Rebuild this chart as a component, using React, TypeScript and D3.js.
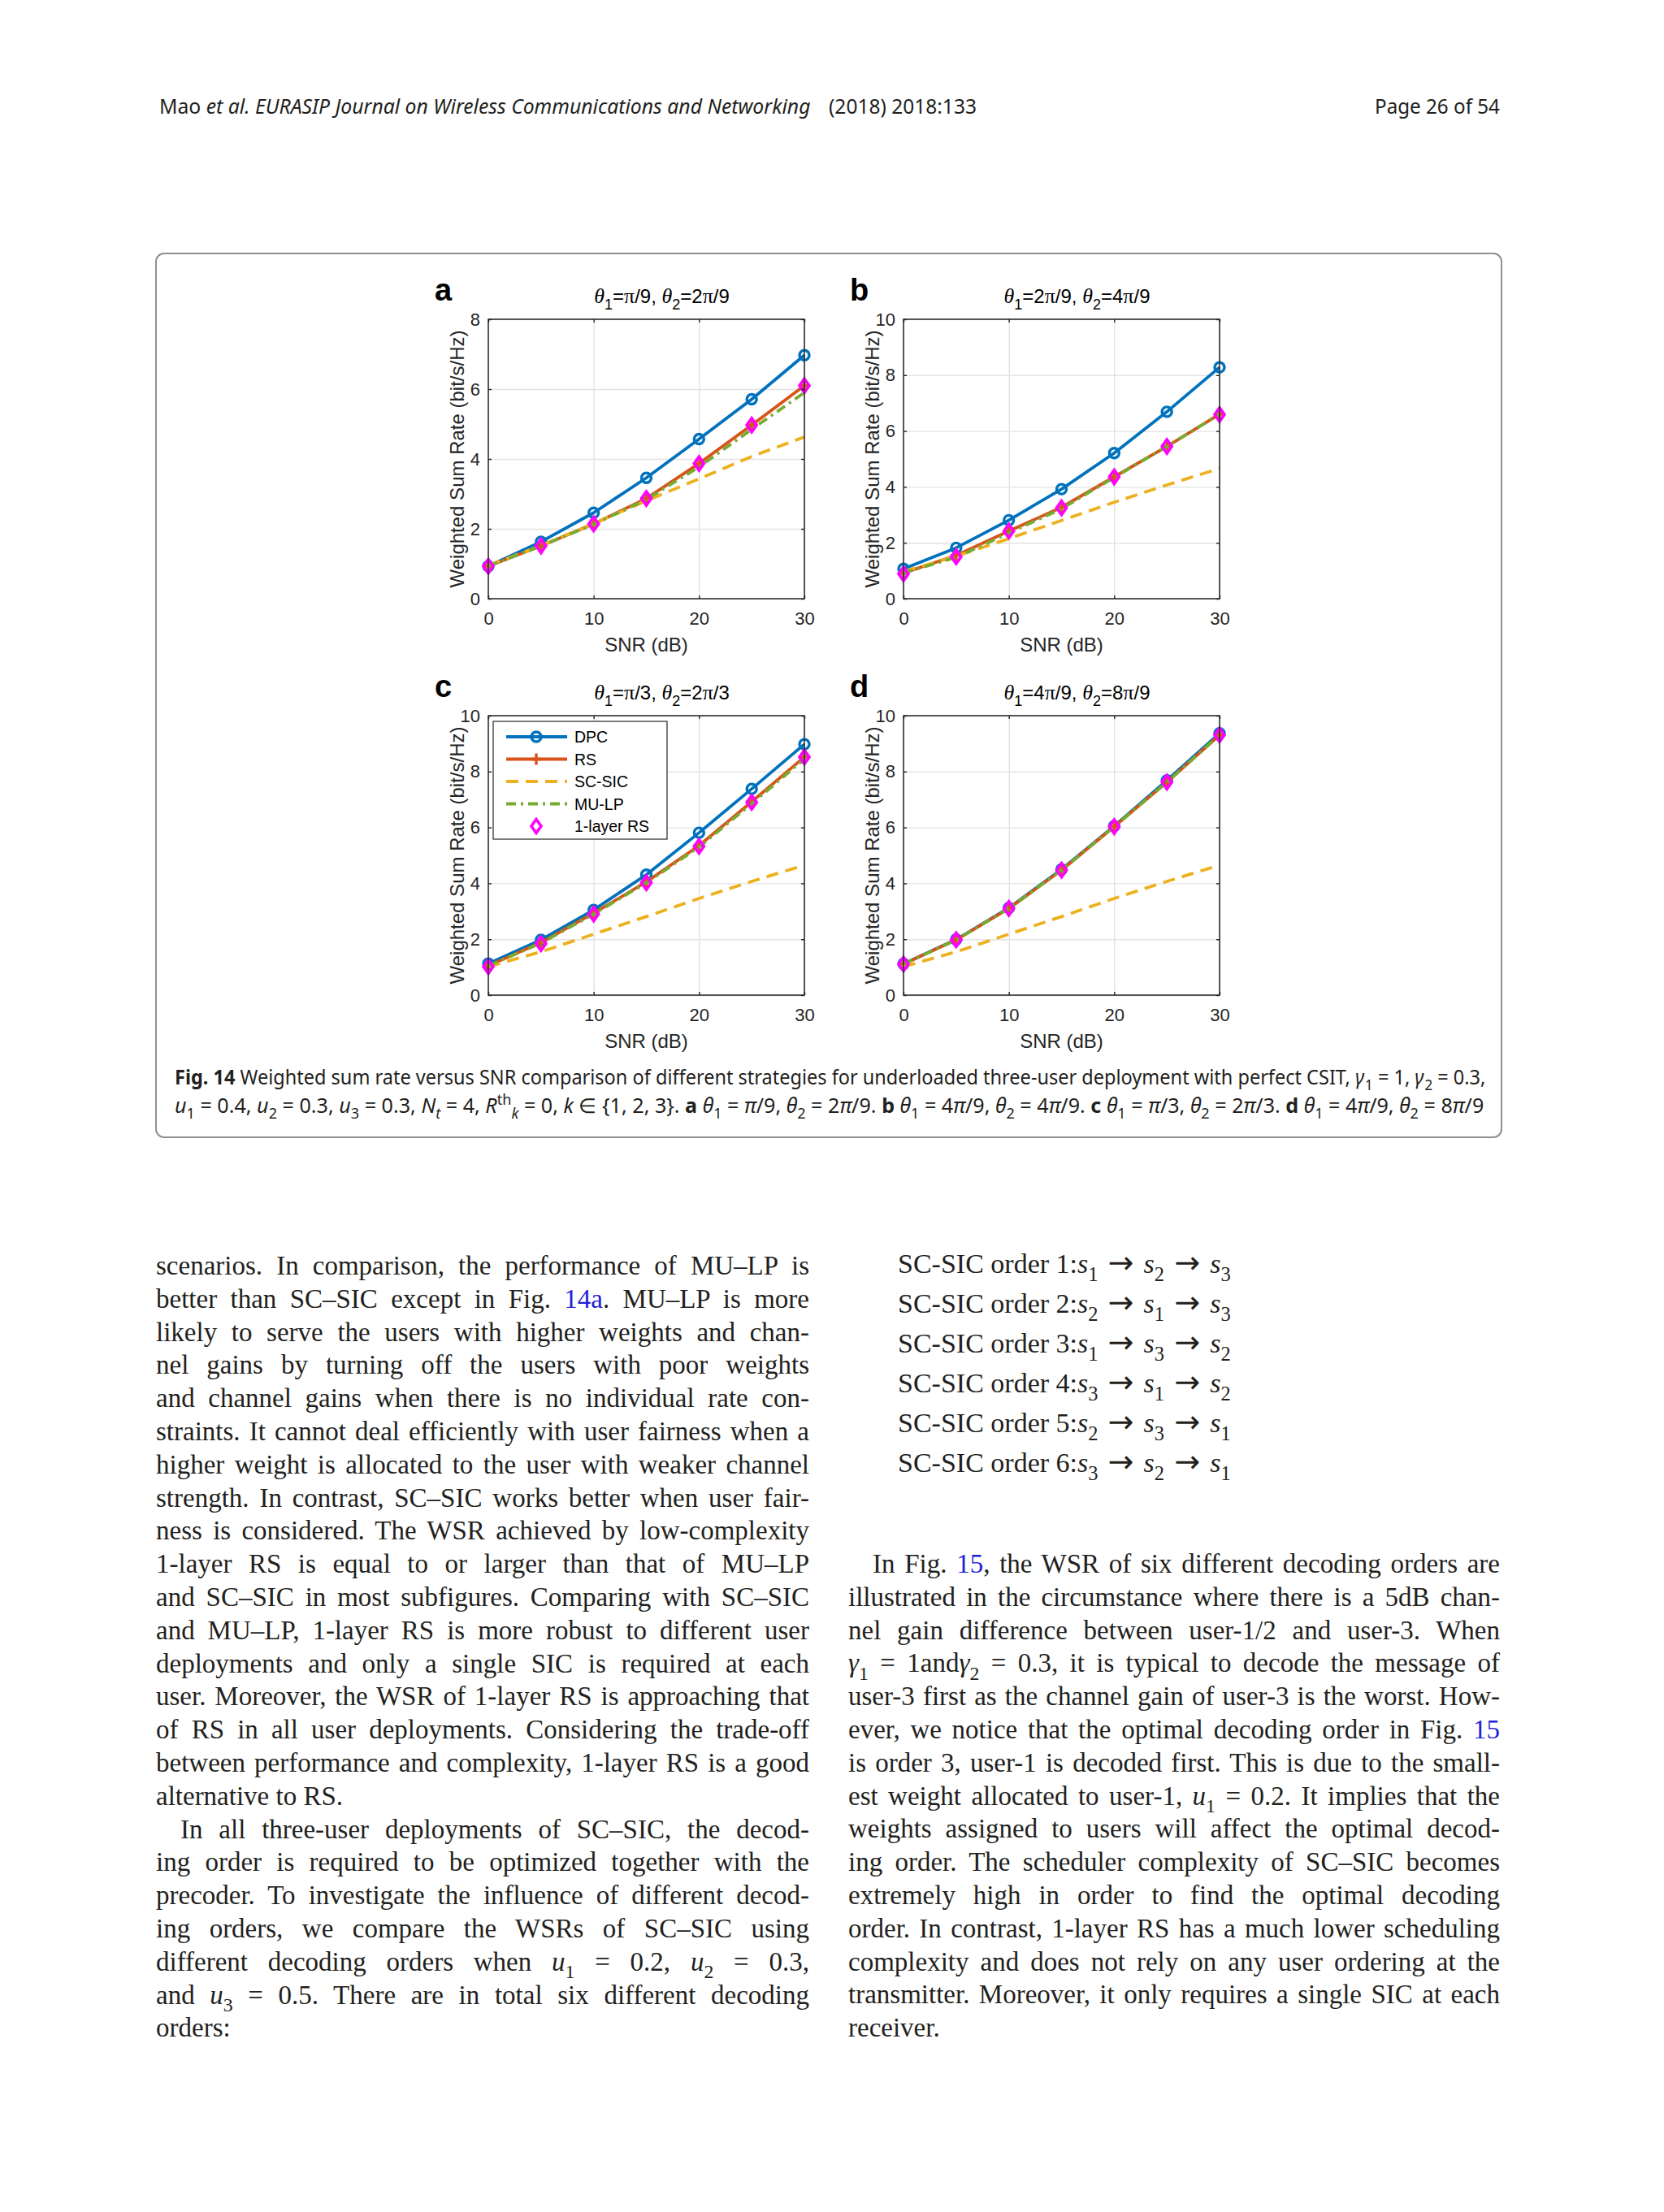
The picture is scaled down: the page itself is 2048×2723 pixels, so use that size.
import { useEffect, useRef } from 'react'
import * as d3 from 'd3'

// x values shared by every panel
const snr = [0, 5, 10, 15, 20, 25, 30]
const xTicks = [0, 10, 20, 30]
const yTicks8 = [0, 2, 4, 6, 8]
const yTicks10 = [0, 2, 4, 6, 8, 10]

const seriesNames = ['DPC', 'RS', 'SC-SIC', 'MU-LP', '1-layer RS']
const seriesColors = ['#0072BD', '#D95319', '#EDB120', '#77AC30', '#FF00FF']

// panel a: theta1 = pi/9, theta2 = 2pi/9
const dpcA = [0.93, 1.63, 2.46, 3.46, 4.57, 5.71, 6.97]
const rsA = [0.93, 1.51, 2.14, 2.87, 3.87, 4.97, 6.1]
const scsicA = [0.95, 1.52, 2.15, 2.8, 3.43, 4.07, 4.63]
const mulpA = [0.93, 1.51, 2.13, 2.84, 3.77, 4.85, 5.9]
const oneLayerA = [0.93, 1.51, 2.14, 2.87, 3.87, 4.97, 6.1]

// panel b: theta1 = 2pi/9, theta2 = 4pi/9
const dpcB = [1.07, 1.82, 2.81, 3.92, 5.21, 6.69, 8.28]
const rsB = [0.92, 1.55, 2.42, 3.27, 4.36, 5.45, 6.6]
const scsicB = [0.97, 1.52, 2.15, 2.8, 3.45, 4.07, 4.66]
const mulpB = [0.92, 1.48, 2.35, 3.22, 4.34, 5.45, 6.6]
const oneLayerB = [0.89, 1.5, 2.42, 3.25, 4.36, 5.45, 6.59]

// panel c: theta1 = pi/3, theta2 = 2pi/3
const dpcC = [1.13, 1.98, 3.05, 4.31, 5.81, 7.38, 8.98]
const rsC = [1.05, 1.88, 2.93, 4.05, 5.35, 6.92, 8.52]
const scsicC = [1.02, 1.55, 2.18, 2.81, 3.46, 4.07, 4.65]
const mulpC = [1.05, 1.86, 2.9, 4.02, 5.3, 6.85, 8.45]
const oneLayerC = [1.02, 1.84, 2.9, 4.02, 5.32, 6.9, 8.52]

// panel d: theta1 = 4pi/9, theta2 = 8pi/9
const dpcD = [1.12, 1.99, 3.12, 4.5, 6.05, 7.68, 9.37]
const rsD = [1.11, 1.98, 3.1, 4.47, 6.03, 7.62, 9.31]
const scsicD = [1.02, 1.55, 2.18, 2.81, 3.46, 4.07, 4.65]
const mulpD = [1.11, 1.98, 3.1, 4.47, 6.03, 7.62, 9.31]
const oneLayerD = [1.11, 1.98, 3.1, 4.47, 6.03, 7.62, 9.31]

type Seg = [string, string?, number?]

const headerLeft: Seg[] = [['Mao '], ['et al.', 'i'], [' EURASIP Journal on Wireless Communications and Networking', 'i']]
const headerMid: Seg[] = [['(2018) 2018:133']]
const headerRight: Seg[] = [['Page 26 of 54']]

const captionLine1: Seg[] = [
  ['Fig. 14', 'b'],
  [' Weighted sum rate versus SNR comparison of different strategies for underloaded three-user deployment with perfect CSIT, '],
  ['γ', 'i'], ['1', '_', 1], [' = 1, '], ['γ', 'i'], ['2', '_', 1], [' = 0.3,'],
]
const captionLine2: Seg[] = [
  ['u', 'i'], ['1', '_'], [' = 0.4, '], ['u', 'i'], ['2', '_'], [' = 0.3, '], ['u', 'i'], ['3', '_'], [' = 0.3, '],
  ['N', 'i'], ['t', 'i_'], [' = 4, '], ['R', 'i'], ['th', '^'], ['k', 'i_'], [' = 0, '], ['k', 'i'], [' ∈ {1, 2, 3}. '],
  ['a', 'b'], [' '], ['θ', 'i'], ['1', '_'], [' = '], ['π', 'i'], ['/9, '], ['θ', 'i'], ['2', '_'], [' = 2'], ['π', 'i'], ['/9. '],
  ['b', 'b'], [' '], ['θ', 'i'], ['1', '_'], [' = 4'], ['π', 'i'], ['/9, '], ['θ', 'i'], ['2', '_'], [' = 4'], ['π', 'i'], ['/9. '],
  ['c', 'b'], [' '], ['θ', 'i'], ['1', '_'], [' = '], ['π', 'i'], ['/3, '], ['θ', 'i'], ['2', '_'], [' = 2'], ['π', 'i'], ['/3. '],
  ['d', 'b'], [' '], ['θ', 'i'], ['1', '_'], [' = 4'], ['π', 'i'], ['/9, '], ['θ', 'i'], ['2', '_'], [' = 8'], ['π', 'i'], ['/9'],
]

const leftLines: Seg[][] = [
  [['scenarios. In comparison, the performance of MU–LP is']],
  [['better than SC–SIC except in Fig. '], ['14a', 'l'], ['. MU–LP is more']],
  [['likely to serve the users with higher weights and chan-']],
  [['nel gains by turning off the users with poor weights']],
  [['and channel gains when there is no individual rate con-']],
  [['straints. It cannot deal efficiently with user fairness when a']],
  [['higher weight is allocated to the user with weaker channel']],
  [['strength. In contrast, SC–SIC works better when user fair-']],
  [['ness is considered. The WSR achieved by low-complexity']],
  [['1-layer RS is equal to or larger than that of MU–LP']],
  [['and SC–SIC in most subfigures. Comparing with SC–SIC']],
  [['and MU–LP, 1-layer RS is more robust to different user']],
  [['deployments and only a single SIC is required at each']],
  [['user. Moreover, the WSR of 1-layer RS is approaching that']],
  [['of RS in all user deployments. Considering the trade-off']],
  [['between performance and complexity, 1-layer RS is a good']],
  [['alternative to RS.']],
  [['In all three-user deployments of SC–SIC, the decod-']],
  [['ing order is required to be optimized together with the']],
  [['precoder. To investigate the influence of different decod-']],
  [['ing orders, we compare the WSRs of SC–SIC using']],
  [['different decoding orders when '], ['u', 'i'], ['1', '_'], [' = 0.2, '], ['u', 'i'], ['2', '_'], [' = 0.3,']],
  [['and '], ['u', 'i'], ['3', '_'], [' = 0.5. There are in total six different decoding']],
  [['orders:']],
]
const leftRagged = [16, 23]
const leftIndent = [17]

// the six SC-SIC decoding orders
const decodingOrders = [[1, 2, 3], [2, 1, 3], [1, 3, 2], [3, 1, 2], [2, 3, 1], [3, 2, 1]]

const rightLines: Seg[][] = [
  [['In Fig. '], ['15', 'l'], [', the WSR of six different decoding orders are']],
  [['illustrated in the circumstance where there is a 5dB chan-']],
  [['nel gain difference between user-1/2 and user-3. When']],
  [['γ', 'i'], ['1', '_'], [' = 1and'], ['γ', 'i'], ['2', '_'], [' = 0.3, it is typical to decode the message of']],
  [['user-3 first as the channel gain of user-3 is the worst. How-']],
  [['ever, we notice that the optimal decoding order in Fig. '], ['15', 'l']],
  [['is order 3, user-1 is decoded first. This is due to the small-']],
  [['est weight allocated to user-1, '], ['u', 'i'], ['1', '_'], [' = 0.2. It implies that the']],
  [['weights assigned to users will affect the optimal decod-']],
  [['ing order. The scheduler complexity of SC–SIC becomes']],
  [['extremely high in order to find the optimal decoding']],
  [['order. In contrast, 1-layer RS has a much lower scheduling']],
  [['complexity and does not rely on any user ordering at the']],
  [['transmitter. Moreover, it only requires a single SIC at each']],
  [['receiver.']],
]
const rightRagged = [14]
const rightIndent = [0]

const SANS = '"Liberation Sans", Arial, sans-serif'
const SERIF = '"Liberation Serif", "Times New Roman", serif'
const CAPTION_FONT = '"Noto Sans", "Open Sans", sans-serif'
const ARROW_FONT = '"DejaVu Sans", sans-serif'
const AXIS = '#262626'
const GRID = '#e3e3e3'
const LINK = '#1f1fd8'
const INK = '#231f20'
const BODY_SIZE = 33
const LEAD = 40.8

const PW = 389
const PH = 344

interface PanelSpec {
  label: string
  th1: string
  th2: string
  yMax: number
  yTicks: number[]
  left: number
  top: number
  values: number[][]
  legend: boolean
}

const panels: PanelSpec[] = [
  { label: 'a', th1: 'π/9', th2: '2π/9', yMax: 8, yTicks: yTicks8, left: 601, top: 393, values: [dpcA, rsA, scsicA, mulpA, oneLayerA], legend: false },
  { label: 'b', th1: '2π/9', th2: '4π/9', yMax: 10, yTicks: yTicks10, left: 1112, top: 393, values: [dpcB, rsB, scsicB, mulpB, oneLayerB], legend: false },
  { label: 'c', th1: 'π/3', th2: '2π/3', yMax: 10, yTicks: yTicks10, left: 601, top: 881, values: [dpcC, rsC, scsicC, mulpC, oneLayerC], legend: true },
  { label: 'd', th1: '4π/9', th2: '8π/9', yMax: 10, yTicks: yTicks10, left: 1112, top: 881, values: [dpcD, rsD, scsicD, mulpD, oneLayerD], legend: false },
]

const DIAMOND = 'M0,-8.5L6,0L0,8.5L-6,0Z'
const PLUS = 'M-7,0H7M0,-7V7'
const DASHES = ['', '', '15,9', '12,6,3,6', '']

function orderSegs(n: number, order: number[]): Seg[] {
  const segs: Seg[] = [[`SC-SIC order ${n}:`]]
  order.forEach((u, k) => {
    if (k > 0) segs.push([' → ', 'a'])
    segs.push(['s', 'i'], [String(u), '_'])
  })
  return segs
}

function piParts(s: string): [string, string][] {
  const [a, b] = s.split('π')
  const out: [string, string][] = []
  if (a) out.push([a, ''])
  out.push(['π', 'p'])
  out.push([b, ''])
  return out
}

function drawMarkers(g: d3.Selection<SVGGElement, unknown, null, undefined>, i: number, xs: number[], ys: number[], color: string) {
  if (i === 0) {
    g.selectAll(null).data(ys).enter().append('circle')
      .attr('cx', (_, k) => xs[k]).attr('cy', d => d).attr('r', 6)
      .attr('fill', 'none').attr('stroke', color).attr('stroke-width', 3.4)
  } else if (i === 1) {
    g.selectAll(null).data(ys).enter().append('path')
      .attr('d', PLUS).attr('transform', (d, k) => `translate(${xs[k]},${d})`)
      .attr('fill', 'none').attr('stroke', color).attr('stroke-width', 3.4)
  } else if (i === 4) {
    g.selectAll(null).data(ys).enter().append('path')
      .attr('d', DIAMOND).attr('transform', (d, k) => `translate(${xs[k]},${d})`)
      .attr('fill', 'none').attr('stroke', color).attr('stroke-width', 3.6)
  }
}

function drawPanel(g: d3.Selection<SVGGElement, unknown, null, undefined>, p: PanelSpec) {
  const x = d3.scaleLinear().domain([0, 30]).range([0, PW])
  const y = d3.scaleLinear().domain([0, p.yMax]).range([PH, 0])
  g.attr('transform', `translate(${p.left},${p.top})`)

  // grid
  const gx = g.append('g').attr('transform', `translate(0,${PH})`)
    .call(d3.axisBottom(x).tickValues(xTicks).tickSize(-PH).tickFormat(() => ''))
  const gy = g.append('g')
    .call(d3.axisLeft(y).tickValues(p.yTicks).tickSize(-PW).tickFormat(() => ''))
  ;[gx, gy].forEach(a => {
    a.select('.domain').remove()
    a.selectAll('line').attr('stroke', GRID).attr('stroke-width', 1.4)
  })

  // series
  const line = d3.line<number>().x((_, k) => x(snr[k])).y(d => y(d))
  p.values.forEach((vals, i) => {
    const sg = g.append('g')
    if (i !== 4) {
      sg.append('path').datum(vals).attr('d', line)
        .attr('fill', 'none').attr('stroke', seriesColors[i]).attr('stroke-width', 3.8)
        .attr('stroke-dasharray', DASHES[i] || null).attr('stroke-linejoin', 'round')
    }
    drawMarkers(sg, i, snr.map(s => x(s)), vals.map(v => y(v)), seriesColors[i])
  })

  // box and inward ticks
  g.append('rect').attr('width', PW).attr('height', PH)
    .attr('fill', 'none').attr('stroke', AXIS).attr('stroke-width', 1.5)
  const axes = [
    g.append('g').attr('transform', `translate(0,${PH})`)
      .call(d3.axisBottom(x).tickValues(xTicks).tickSize(-4).tickPadding(16)),
    g.append('g').call(d3.axisTop(x).tickValues(xTicks).tickSize(-4).tickFormat(() => '')),
    g.append('g').call(d3.axisLeft(y).tickValues(p.yTicks).tickSize(-4).tickPadding(10)),
    g.append('g').attr('transform', `translate(${PW},0)`)
      .call(d3.axisRight(y).tickValues(p.yTicks).tickSize(-4).tickFormat(() => '')),
  ]
  axes.forEach(a => {
    a.select('.domain').remove()
    a.selectAll('line').attr('stroke', AXIS).attr('stroke-width', 1.4)
    a.selectAll('text').attr('fill', AXIS).attr('font-size', 22).attr('font-family', SANS)
  })

  // title
  const title = g.append('text').attr('x', PW / 2 + 19).attr('y', -20)
    .attr('text-anchor', 'middle').attr('font-family', SANS).attr('font-size', 24).attr('fill', '#000')
  const parts: [string, string][] = [
    ['θ', 'm'], ['1', '_'], ['=', ''], ...piParts(p.th1), [', ', ''],
    ['θ', 'm'], ['2', '_'], ['=', ''], ...piParts(p.th2),
  ]
  let shift = 0
  parts.forEach(([t, c]) => {
    const target = c === '_' ? 8 : 0
    const ts = title.append('tspan').text(t)
    if (target !== shift) ts.attr('dy', target - shift)
    shift = target
    if (c === '_') ts.attr('font-size', 18)
    if (c === 'm') ts.attr('font-family', SERIF).attr('font-style', 'italic').attr('font-size', 26)
    if (c === 'p') ts.attr('font-family', SERIF).attr('font-size', 26)
  })

  g.append('text').attr('x', -66).attr('y', -23)
    .attr('font-family', SANS).attr('font-weight', 'bold').attr('font-size', 38).text(p.label)

  g.append('text').attr('x', PW / 2).attr('y', PH + 65).attr('text-anchor', 'middle')
    .attr('font-family', SANS).attr('font-size', 24).attr('fill', AXIS).text('SNR (dB)')

  g.append('text').attr('transform', 'rotate(-90)').attr('x', -PH / 2).attr('y', -30)
    .attr('text-anchor', 'middle').attr('font-family', SANS).attr('font-size', 24).attr('fill', AXIS)
    .text('Weighted Sum Rate (bit/s/Hz)')

  if (p.legend) {
    const lg = g.append('g').attr('transform', 'translate(6,7)')
    lg.append('rect').attr('width', 214).attr('height', 145)
      .attr('fill', '#fff').attr('stroke', AXIS).attr('stroke-width', 1.2)
    seriesNames.forEach((name, i) => {
      const yy = 19 + i * 27.5
      const row = lg.append('g')
      if (i !== 4) {
        row.append('line').attr('x1', 16).attr('x2', 91).attr('y1', yy).attr('y2', yy)
          .attr('stroke', seriesColors[i]).attr('stroke-width', 3.8)
          .attr('stroke-dasharray', DASHES[i] || null)
      }
      drawMarkers(row, i, [53], [yy], seriesColors[i])
      row.append('text').attr('x', 100).attr('y', yy).attr('dy', '0.36em')
        .attr('font-family', SANS).attr('font-size', 19.5).attr('fill', '#000').text(name)
    })
  }
}

function RichText({ x, y, segs, size, family, fill = INK, justify, fit }: {
  x: number, y: number, segs: Seg[], size: number, family: string, fill?: string,
  justify?: number, fit?: number
}) {
  let shift = 0
  return (
    <text x={x} y={y} fontSize={size} fontFamily={family} fill={fill} data-w={justify} data-fit={fit}
      style={{ whiteSpace: 'pre' }}>
      {segs.map(([t, c = '', dx], k) => {
        const target = c.includes('_') ? size * 0.28 : c.includes('^') ? -size * 0.4 : 0
        const dy = target - shift
        shift = target
        const arrow = c.includes('a')
        return (
          <tspan key={k} dy={dy !== 0 ? dy : undefined} dx={dx || undefined}
            fontSize={target !== 0 ? size * 0.72 : arrow ? size * 1.12 : undefined}
            fontFamily={arrow ? ARROW_FONT : undefined}
            fontStyle={c.includes('i') ? 'italic' : undefined}
            fontWeight={c.includes('b') ? 'bold' : undefined}
            fill={c.includes('l') ? LINK : undefined}>{t}</tspan>
        )
      })}
    </text>
  )
}

export default function App() {
  const svgRef = useRef<SVGSVGElement>(null)
  const chartRef = useRef<SVGGElement>(null)

  useEffect(() => {
    if (!chartRef.current || !svgRef.current) return
    const root = d3.select(chartRef.current)
    root.selectAll('*').remove()
    panels.forEach(p => drawPanel(root.append('g'), p))

    const svg = d3.select(svgRef.current)
    // justify body lines by widening (or slightly tightening) the word spaces
    svg.selectAll<SVGTextElement, unknown>('text[data-w]').each(function () {
      const w = +(this.getAttribute('data-w') || 0)
      const len = this.getComputedTextLength()
      const spaces = (this.textContent || '').split(' ').length - 1
      const ws = spaces > 0 ? (w - len) / spaces : 0
      if (ws >= -BODY_SIZE * 0.1) {
        this.setAttribute('word-spacing', String(ws))
      } else {
        this.setAttribute('word-spacing', String(-BODY_SIZE * 0.1))
        this.setAttribute('textLength', String(w))
        this.setAttribute('lengthAdjust', 'spacingAndGlyphs')
      }
    })
    // squeeze the condensed sans lines (header, caption) to their width
    svg.selectAll<SVGTextElement, unknown>('text[data-fit]').each(function () {
      const w = +(this.getAttribute('data-fit') || 0)
      const x0 = +(this.getAttribute('x') || 0)
      const s = w / this.getComputedTextLength()
      this.setAttribute('transform', `translate(${x0 * (1 - s)},0) scale(${s},1)`)
    })
  }, [])

  return (
    <svg ref={svgRef} width={2048} height={2723} viewBox="0 0 2048 2723"
      style={{ position: 'absolute', left: 0, top: 0, background: '#fff' }}>
      <rect width={2048} height={2723} fill="#fff" />

      {/* running header */}
      <RichText x={196} y={140} segs={headerLeft} size={26} family={CAPTION_FONT} fit={802} />
      <RichText x={1020} y={140} segs={headerMid} size={26} family={CAPTION_FONT} fit={182} />
      <RichText x={1692} y={140} segs={headerRight} size={26} family={CAPTION_FONT} fit={154} />

      {/* figure frame */}
      <rect x={192} y={312} width={1656} height={1088} rx={10} fill="none" stroke="#8f8f8f" strokeWidth={2} />
      <g ref={chartRef} />

      <RichText x={215} y={1335} segs={captionLine1} size={25} family={CAPTION_FONT} fit={1612} />
      <RichText x={215} y={1370} segs={captionLine2} size={25} family={CAPTION_FONT} fit={1612} />

      {/* left column */}
      {leftLines.map((segs, i) => {
        const indent = leftIndent.includes(i) ? 30 : 0
        return (
          <RichText key={i} x={192 + indent} y={1569 + i * LEAD} segs={segs} size={BODY_SIZE} family={SERIF}
            justify={leftRagged.includes(i) ? undefined : 804 - indent} />
        )
      })}

      {/* right column */}
      {decodingOrders.map((order, i) => (
        <RichText key={i} x={1105} y={1567 + i * 49} segs={orderSegs(i + 1, order)} size={34} family={SERIF} />
      ))}
      {rightLines.map((segs, i) => {
        const indent = rightIndent.includes(i) ? 30 : 0
        return (
          <RichText key={i} x={1044 + indent} y={1936 + i * LEAD} segs={segs} size={BODY_SIZE} family={SERIF}
            justify={rightRagged.includes(i) ? undefined : 802 - indent} />
        )
      })}
    </svg>
  )
}
